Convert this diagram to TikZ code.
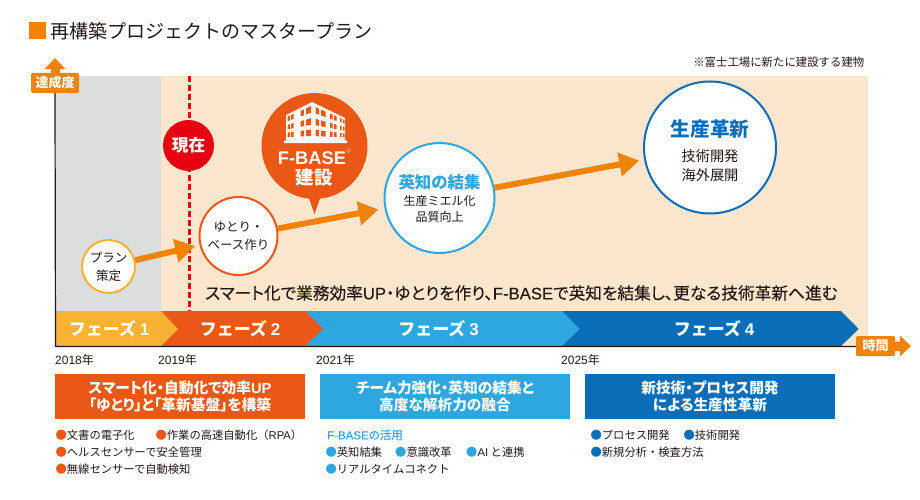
\documentclass[tikz,border=0pt]{standalone}
\usepackage{fontspec}
\usepackage{xcolor}
\setmainfont{Noto Sans CJK JP}
\newfontfamily\lat{Liberation Sans}
\newfontfamily\latmid[FakeBold=0.2]{Liberation Sans}
\newfontfamily\palt[RawFeature=+palt]{Noto Sans CJK JP}
\newfontfamily\paltmid[RawFeature=+palt,FakeBold=0.2]{Noto Sans CJK JP}
\usetikzlibrary{arrows.meta}
\definecolor{ink}{HTML}{231815}
\definecolor{beige}{HTML}{FCE6CE}
\definecolor{greyband}{HTML}{DCDDDD}
\definecolor{orangec}{HTML}{F08300}
\definecolor{yellowc}{HTML}{F9B233}
\definecolor{redc}{HTML}{EB5816}
\definecolor{nowc}{HTML}{E60012}
\definecolor{bluec}{HTML}{2EA7E0}
\definecolor{darkc}{HTML}{0A6DB8}
\newcommand{\fsz}[2]{\fontsize{#1}{#2}\selectfont}
\newcommand{\dotc}[1]{{\color{#1}●}}
\tikzset{
  every node/.style={inner sep=0pt, text=ink},
  ring/.style={shape=circle, draw=#1, line width=2pt, fill=white, align=center},
  flowarrow/.style={draw=orangec, fill=orangec, line width=6pt, -{Triangle[length=20pt,width=23pt]}},
  tagbox/.style={fill=orangec, rounded corners=1.5pt, text=white, font=\fsz{13}{15}\bfseries},
  tagarrow/.style={draw=orangec, fill=orangec, line width=9pt, -{Triangle[length=11pt,width=20pt]}},
  phaselabel/.style={text=white, font=\fsz{17}{20}\bfseries},
  yearlabel/.style={anchor=west, font=\fsz{12}{14}\lat},
  headbox/.style={fill=#1, minimum width=250pt, minimum height=45pt, text=white, align=center, font=\fsz{14.7}{17.5}\palt\bfseries},
  itemtext/.style={anchor=west, font=\fsz{11.3}{14}},
}
\begin{document}
\begin{tikzpicture}[x=1pt, y=-1pt]
\useasboundingbox (0,0) rectangle (920,500);
% title
\node[fill=orangec, minimum size=17pt] (mark) at (37.5,30.5) {};
\node[anchor=west, font=\fsz{19}{22}] (title) at (50,31.5) {再構築プロジェクトのマスタープラン};
\node[anchor=east, font=\fsz{11.4}{14}] (note) at (864.5,62.5) {※富士工場に新たに建設する建物};
% bands
\fill[beige] (161,76) rectangle (868,346);
\fill[greyband] (55,76) rectangle (161,311);
% phases
\fill[darkc] (562,311) -- (841,311) -- (858.7,329) -- (841,346) -- (562,346) -- cycle;
\fill[bluec] (305,311) -- (562,311) -- (579.5,329) -- (562,346) -- (305,346) -- cycle;
\fill[redc] (161,311) -- (305,311) -- (323,329) -- (305,346) -- (161,346) -- cycle;
\fill[yellowc] (55,311) -- (161,311) -- (178,329) -- (161,346) -- (55,346) -- cycle;
\node[phaselabel] (ph1) at (109,329) {フェーズ {\lat 1}};
\node[phaselabel] (ph2) at (240,329) {フェーズ {\lat 2}};
\node[phaselabel] (ph3) at (438.5,329) {フェーズ {\lat 3}};
\node[phaselabel] (ph4) at (714,329) {フェーズ {\lat 4}};
% axes
\node[tagbox, minimum width=48pt, minimum height=20pt] (tatsu) at (55,83) {達成度};
\node[tagbox, minimum width=39pt, minimum height=20pt] (jikan) at (875.5,346) {時間};
\coordinate (origin) at (55.5,346.5);
\coordinate (tatsutip) at (55,58);
\coordinate (jikantip) at (911,346);
\draw[ink, line width=1.2pt] (tatsu.south) -- (origin) -- (jikan.west |- origin);
\draw[tagarrow] (tatsu.north) -- (tatsutip);
\draw[tagarrow] (jikan.east) -- (jikantip);
% now line
\coordinate (nowtop) at (189.5,76);
\coordinate (nowbot) at (189.5,311);
\draw[nowc, line width=3pt, dash pattern=on 6pt off 3pt] (nowtop) -- (nowbot);
\node[shape=circle, fill=nowc, minimum size=51pt, text=white, font=\fsz{16.7}{20}\bfseries] (now) at (188.5,145.5) {現在};
% F-BASE bubble
\fill[redc] (306,190) -- (314.5,214) -- (323,190) -- cycle;
\node[shape=circle, fill=redc, minimum size=106pt] (fbase) at (314.5,146) {};
\fill[white] (284,143) -- (284,140.5) -- (286,140.5) -- (286,115) -- (312,102) -- (345,118) -- (345,140.5) -- (347,140.5) -- (347,143) -- cycle;
\foreach \xa/\xb/\xo/\yo/\sl in {287.5/290/286/115/-.5, 291/293.5/286/115/-.5, 300.5/304/286/115/-.5, 306/311/286/115/-.5, 315.5/319/312/102/.485, 321/325.5/312/102/.485, 330/332.5/312/102/.485, 334/336.5/312/102/.485, 340/341.5/312/102/.485, 343/344.5/312/102/.485}
  \foreach \t in {.1,.43,.74} {
    \pgfmathsetmacro\ya{\yo+(\xa-\xo)*\sl}
    \pgfmathsetmacro\yb{\yo+(\xb-\xo)*\sl}
    \fill[redc] (\xa,{\ya+\t*(139-\ya)}) -- (\xb,{\yb+\t*(139-\yb)}) -- (\xb,{\yb+(\t+.18)*(139-\yb)}) -- (\xa,{\ya+(\t+.18)*(139-\ya)}) -- cycle;
  }
\node[text=white, font=\fsz{18.3}{20}\lat\bfseries] (fbname) at (312,158.5) {F-BASE};
\node[text=white, font=\fsz{6}{7}] (fbstar) at (348.5,151.5) {※};
\node[text=white, font=\fsz{18.5}{20}\bfseries] (fbbuild) at (314,178) {建設};
% circles
\node[ring=yellowc, minimum size=53pt, font=\fsz{12.5}{18}] (plan) at (108.5,266.5) {プラン\\策定};
\node[ring=redc, minimum size=78pt, font=\fsz{12.5}{18}] (yutori) at (238.5,236) {ゆとり・\\ベース作り};
\node[ring=bluec, minimum size=110pt, font=\fsz{12}{16}] (eichi) at (439.5,198) {\raisebox{-1pt}{\fsz{16.4}{22}\bfseries\color{bluec}英知の結集}\\[2pt]生産ミエル化\\品質向上};
\node[ring=darkc, minimum size=132pt, font=\fsz{14.2}{19}] (seisan) at (710,147.5) {\rule{0pt}{24pt}{\fsz{19.6}{27}\bfseries\color{darkc}生産革新}\\[6pt]技術開発\\海外展開};
\draw[flowarrow, shorten >=4.5pt] (plan) -- (yutori);
\draw[flowarrow, shorten >=6pt] (yutori) -- (eichi);
\draw[flowarrow, shorten >=5pt] (eichi) -- (seisan);
\node[anchor=west, font=\fsz{16.7}{18}\paltmid] (message) at (205,293) {スマート化で業務効率{\latmid UP}・ゆとりを作り、{\latmid F-BASE}で英知を結集し、更なる技術革新へ進む};
% years
\node[yearlabel] (y2018) at (55,359.5) {2018{\fontspec{Noto Sans CJK JP}年}};
\node[yearlabel] (y2019) at (158,359.5) {2019{\fontspec{Noto Sans CJK JP}年}};
\node[yearlabel] (y2021) at (316,359.5) {2021{\fontspec{Noto Sans CJK JP}年}};
\node[yearlabel] (y2025) at (561,359.5) {2025{\fontspec{Noto Sans CJK JP}年}};
% head boxes
\node[headbox=redc] (headA) at (180,396.5) {スマート化・自動化で効率{\lat UP}\\「ゆとり」と「革新基盤」を構築};
\node[headbox=bluec] (headB) at (445,396.5) {チーム力強化・英知の結集と\\高度な解析力の融合};
\node[headbox=darkc] (headC) at (710,396.5) {新技術・プロセス開発\\による生産性革新};
% items
\node[itemtext] (a1) at (55.4,435) {\dotc{redc}文書の電子化};
\node[itemtext] (a2) at (155.4,435) {\dotc{redc}作業の高速自動化（{\lat RPA}）};
\node[itemtext] (a3) at (55.4,452.5) {\dotc{redc}ヘルスセンサーで安全管理};
\node[itemtext] (a4) at (55.4,469.5) {\dotc{redc}無線センサーで自動検知};
\node[anchor=west, text=bluec, font=\fsz{11.5}{14}\paltmid] (b0) at (327,435) {{\latmid F-BASE}の活用};
\node[itemtext] (b1) at (325.4,452.5) {\dotc{bluec}英知結集};
\node[itemtext] (b2) at (395,452.5) {\dotc{bluec}意識改革};
\node[itemtext] (b3) at (466,452.5) {\dotc{bluec}{\lat AI} と連携};
\node[itemtext] (b4) at (325.4,469.5) {\dotc{bluec}リアルタイムコネクト};
\node[itemtext] (c1) at (590.4,435) {\dotc{darkc}プロセス開発};
\node[itemtext] (c2) at (683.4,435) {\dotc{darkc}技術開発};
\node[itemtext] (c3) at (590.4,452.5) {\dotc{darkc}新規分析・検査方法};
\end{tikzpicture}
\end{document}
